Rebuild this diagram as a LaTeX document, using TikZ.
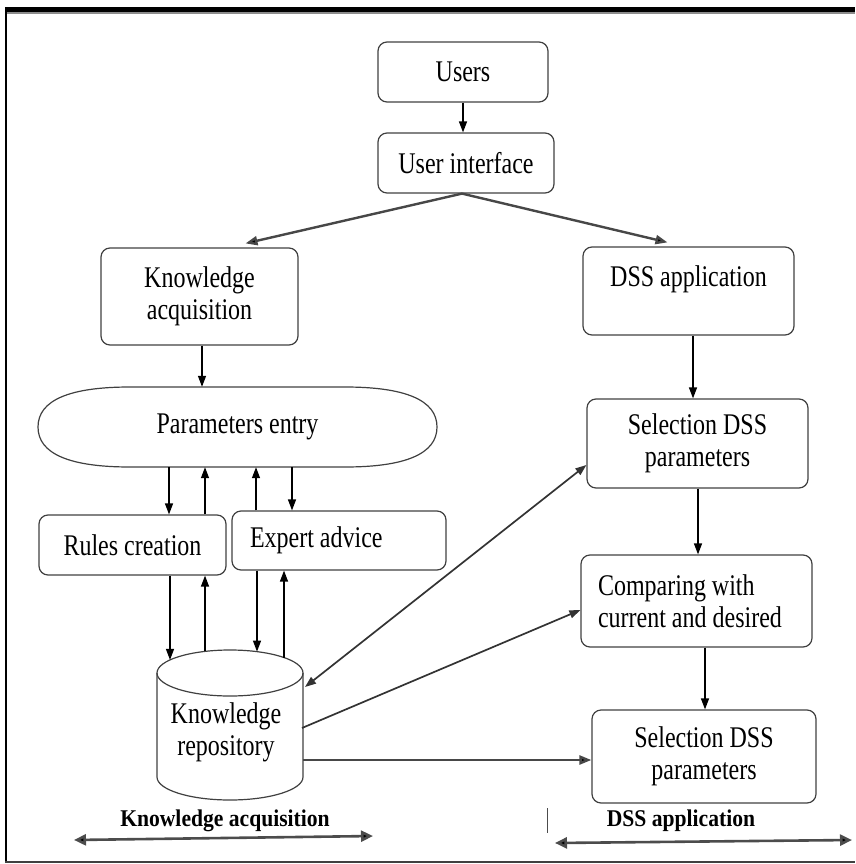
\documentclass[tikz,border=0pt]{standalone}
\usepackage{fontspec}
\setmainfont[FakeStretch=0.8]{Liberation Serif}
\newfontfamily\labfont[FakeStretch=0.9]{Liberation Serif}
\usetikzlibrary{arrows.meta,calc}
\begin{document}
\begin{tikzpicture}[x=1pt,y=-1pt,
  box/.style={draw=black!75, line width=1.2pt, rounded corners=9pt, inner sep=0pt,
              align=center, font=\fontsize{30}{32}\selectfont},
  outline/.style={draw=black!75, line width=1.2pt},
  arr/.style={line width=1.3pt, -{Triangle[length=11pt,width=8pt]}},
  diag/.style={line width=1.7pt, draw=black!80, -{Triangle[length=11pt,width=8pt]}},
  thk/.style={line width=2.4pt, draw=black!72, -{Triangle[length=12pt,width=9pt,fill=black]}},
  thkd/.style={line width=2.6pt, draw=black!70, {Triangle[length=12pt,width=11pt,fill=black]}-{Triangle[length=12pt,width=11pt,fill=black]}},
  lab/.style={font=\labfont\bfseries\fontsize{24}{26}\selectfont, inner sep=0pt}
]
\useasboundingbox (0,0) rectangle (855,864);
% frame
\draw[line width=5pt] (5,9.5) -- (855,9.5);
\draw[line width=1.5pt, black!45] (5,12.8) -- (855,12.8);
\draw[line width=2pt] (6,9) -- (6,862);
\draw[line width=2.5pt, black!75] (5,862) -- (855,862);

% nodes
\node[box, minimum width=170pt, minimum height=60pt] (users) at (463,72) {Users};
\node[box, minimum width=176pt, minimum height=60pt] (ui) at (466,163) {User interface};
\node[box, minimum width=197pt, minimum height=97pt] (ka) at (199.5,296.5) {Knowledge\\acquisition};
\node[box, minimum width=211pt, minimum height=88pt, text depth=30pt] (dss) at (688.5,291) {DSS application};
\node[box, minimum width=221pt, minimum height=89pt] (sel1) at (697.5,443.5) {Selection DSS\\parameters};
\node[box, text width=197pt, inner xsep=17pt, align=flush left, minimum height=92pt] (comp) at (696.5,601) {Comparing with\\current and desired};
\node[box, minimum width=224pt, minimum height=93pt] (sel2) at (704,756.5) {Selection DSS\\parameters};
\node[box, minimum width=187pt, minimum height=60pt] (rc) at (132.5,545) {Rules creation};
\node[box, text width=178pt, inner xsep=18pt, align=flush left, minimum height=59pt] (ea) at (339,540.5) {Expert advice};

% parameters entry
\node[font=\fontsize{30}{32}\selectfont, minimum width=399pt, minimum height=80pt, inner sep=0pt] (pe) at (237.5,427) {Parameters entry};
\draw[outline] (38,427) .. controls (38,400) and (70,387) .. (130,387) -- (345,387)
  .. controls (405,387) and (437,400) .. (437,427)
  .. controls (437,454) and (405,467) .. (345,467) -- (130,467)
  .. controls (70,467) and (38,454) .. cycle;

% knowledge repository cylinder
\draw[outline] (157,673) -- (157,777) arc[start angle=180, end angle=0, x radius=73, y radius=23] -- (303,673);
\draw[outline] (230,673) ellipse[x radius=73, y radius=23];
\node[font=\fontsize{30}{32}\selectfont, align=center, inner sep=0pt] (kr) at (226,732) {Knowledge\\repository};

% helper coordinates
\coordinate (x1) at (169,0);
\coordinate (x2) at (205,0);
\coordinate (x3) at (256,0);
\coordinate (x4) at (292,0);
\coordinate (xa) at (202,0);
\coordinate (xb) at (693,0);
\coordinate (xc) at (698,0);
\coordinate (xd) at (705,0);
\coordinate (k1) at (170,659.9);
\coordinate (k2) at (205,651.4);
\coordinate (k3) at (257,651.6);
\coordinate (k4) at (284,657.5);
\coordinate (r1) at (305,687);
\coordinate (r2) at (302,728);
\coordinate (r3) at (303,760);

% connectors
\draw[arr] (users.south) -- (users.south |- ui.north);
\draw[thk] ([xshift=-4pt]ui.south) -- ([xshift=46pt,yshift=4pt]ka.north);
\draw[thk] ([xshift=-4pt]ui.south) -- ([xshift=-21pt,yshift=4pt]dss.north);
\draw[arr] (xa |- ka.south) -- (xa |- pe.north);

\draw[arr] (x1 |- pe.south) -- (x1 |- rc.north);
\draw[arr] (x2 |- rc.north) -- (x2 |- pe.south);
\draw[arr] (x3 |- ea.north) -- (x3 |- pe.south);
\draw[arr] (x4 |- pe.south) -- (x4 |- ea.north);

\draw[arr] (k1 |- rc.south) -- (k1);
\draw[arr] (k2) -- (k2 |- rc.south);
\draw[arr] (k3 |- ea.south) -- (k3);
\draw[arr] (k4) -- (k4 |- ea.south);

\draw[arr] (xb |- dss.south) -- (xb |- sel1.north);
\draw[arr] (xc |- sel1.south) -- (xc |- comp.north);
\draw[arr] (xd |- comp.south) -- (xd |- sel2.north);

\draw[diag, {Triangle[length=11pt,width=8pt]}-{Triangle[length=11pt,width=8pt]}] (r1) -- ([yshift=-21.5pt]sel1.west);
\draw[diag] (r2) -- ([yshift=-9pt]comp.west);
\draw[thk] (r3) -- (r3 -| sel2.west);

% bottom labels
\node[lab] (lk) at (225,821) {Knowledge acquisition};
\node[lab] (ld) at (681,821) {DSS application};
\coordinate (a1) at (74,840);
\coordinate (a2) at (373,836);
\coordinate (a3) at (555,843);
\coordinate (a4) at (852,840);
\draw[thkd] (a1) -- (a2);
\draw[thkd] (a3) -- (a4);
\draw[line width=1pt, black!70] (547,808) -- (547,833);
\end{tikzpicture}
\end{document}
